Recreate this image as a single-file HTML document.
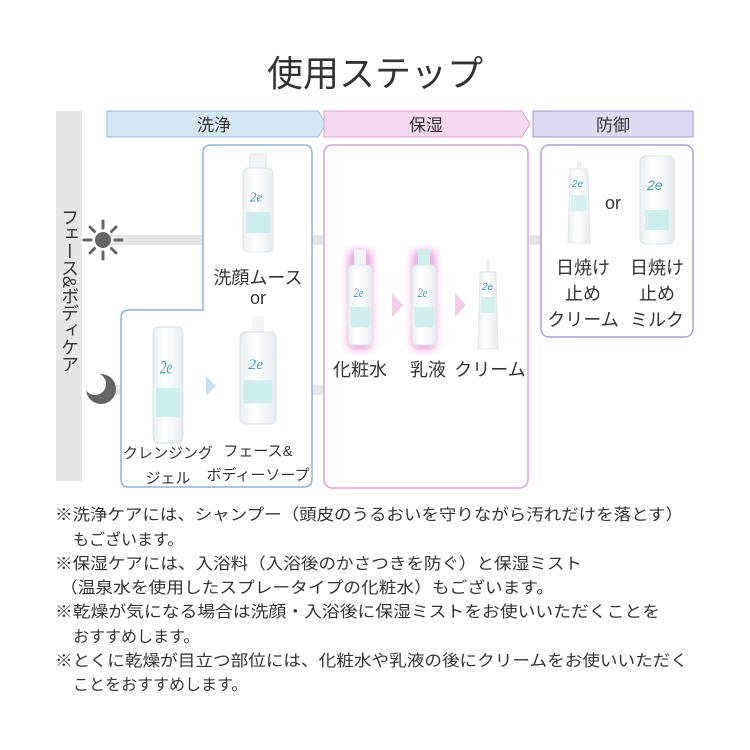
<!DOCTYPE html>
<html><head><meta charset="utf-8"><style>
html,body{margin:0;padding:0;background:#fff}
svg{display:block}
text{font-family:"Liberation Sans","Noto Sans CJK JP",sans-serif;fill:#333}
.vt{position:absolute;left:58px;top:208px;writing-mode:vertical-rl;font-family:"Liberation Sans","Noto Sans CJK JP",sans-serif;font-size:18px;color:#333;line-height:22px;letter-spacing:-1px}
</style></head><body>
<div style="position:relative;width:750px;height:750px">
<svg width="750" height="750" viewBox="0 0 750 750" xmlns="http://www.w3.org/2000/svg">
<defs>
<linearGradient id="bt" x1="0" x2="1"><stop offset="0" stop-color="#e9eef0"/><stop offset="0.4" stop-color="#fff"/><stop offset="1" stop-color="#e6ebee"/></linearGradient>
<filter id="glow" x="-50%" y="-50%" width="200%" height="200%"><feGaussianBlur stdDeviation="4"/></filter>
<g id="bottle">
<rect x="-15" y="-40" width="30" height="80" rx="5" fill="url(#bt)" stroke="#dde3e6"/>
<text x="-8" y="-8" font-size="13" font-style="italic" style="fill:#3a9fb8;font-family:'Liberation Serif',serif">2e</text>
<rect x="-12" y="2" width="24" height="20" fill="#cdeeed"/>
</g>
</defs>
<text x="375" y="86" text-anchor="middle" font-size="36">使用ステップ</text>

<rect x="56" y="111" width="26" height="370" fill="#e6e6e6"/>
<rect x="110" y="235" width="435" height="10" fill="#e6e6e6"/>
<rect x="110" y="385" width="215" height="10" fill="#e6e6e6"/>

<g transform="translate(103,240)" fill="#666">
<circle r="8"/>
<g stroke="#666" stroke-width="3" stroke-linecap="round">
<line x1="12" y1="0" x2="19" y2="0"/><line x1="-12" y1="0" x2="-19" y2="0"/>
<line x1="0" y1="12" x2="0" y2="19"/><line x1="0" y1="-12" x2="0" y2="-19"/>
<line x1="8.5" y1="8.5" x2="13" y2="13"/><line x1="-8.5" y1="8.5" x2="-13" y2="13"/>
<line x1="8.5" y1="-8.5" x2="13" y2="-13"/><line x1="-8.5" y1="-8.5" x2="-13" y2="-13"/>
</g></g>
<circle cx="101" cy="389" r="15" fill="#666"/>
<circle cx="95" cy="384" r="11" fill="#fff"/>

<path d="M107,111 H318 L326,124 L318,137 H107 Z" fill="#d5e6f5" stroke="#93bde2"/>
<text x="214" y="131" text-anchor="middle" font-size="17">洗浄</text>
<path d="M324,111 H522 L530,124 L522,137 H324 Z" fill="#f4d8ef" stroke="#dba6d2"/>
<text x="426" y="131" text-anchor="middle" font-size="17">保湿</text>
<rect x="533" y="111" width="160" height="26" fill="#dcd9f1" stroke="#a69dd6"/>
<text x="613" y="131" text-anchor="middle" font-size="17">防御</text>

<path d="M211,145 H304 Q312,145 312,153 V479 Q312,487 304,487 H129 Q121,487 121,479 V318 Q121,310 129,310 H203 V153 Q203,145 211,145 Z" fill="#fff" stroke="#8ab4dc" stroke-width="1.5"/>
<rect x="324" y="145" width="204" height="343" rx="8" fill="#fff" stroke="#d8a6d0" stroke-width="1.5"/>
<rect x="541" y="145" width="152" height="192" rx="8" fill="#fff" stroke="#a9a0d6" stroke-width="1.5"/>

<g transform="translate(258,210)"><rect x="-8" y="-56" width="16" height="18" fill="#f2f4f5" stroke="#dde3e6"/><use href="#bottle" transform="scale(1,1.05)"/></g>
<text x="258" y="284" text-anchor="middle" font-size="18">洗顔ムース</text>
<text x="258" y="304" text-anchor="middle" font-size="18">or</text>
<g transform="translate(168,385)"><use href="#bottle" transform="scale(1,1.45)"/></g>
<path d="M206,376 L216,386 L206,396 Z" fill="#c9def0"/>
<g transform="translate(258,378)"><rect x="-6" y="-62" width="12" height="16" fill="#f2f4f5"/><use href="#bottle" transform="scale(1.2,1.15)"/></g>
<text x="168" y="458" text-anchor="middle" font-size="15">クレンジング</text>
<text x="168" y="483" text-anchor="middle" font-size="15">ジェル</text>
<text x="258" y="456" text-anchor="middle" font-size="15">フェース&amp;</text>
<text x="258" y="480" text-anchor="middle" font-size="15">ボディーソープ</text>

<rect x="348" y="250" width="24" height="100" rx="6" fill="#e9a6dc" filter="url(#glow)"/>
<g transform="translate(360,305)"><rect x="-6" y="-55" width="12" height="18" fill="#f2f4f5"/><use href="#bottle" transform="scale(0.8,1)"/></g>
<path d="M392,293 L403,305 L392,317 Z" fill="#f1cfe9"/>
<rect x="412" y="250" width="24" height="100" rx="6" fill="#e9a6dc" filter="url(#glow)"/>
<g transform="translate(424,305)"><rect x="-6" y="-55" width="12" height="18" fill="#cdeeed"/><use href="#bottle" transform="scale(0.8,1)"/></g>
<path d="M455,293 L466,305 L455,317 Z" fill="#f1cfe9"/>
<g transform="translate(488,312)"><rect x="-2" y="-52" width="4" height="12" fill="#eee"/><path d="M-8,-40 H8 L10,37 H-10 Z" fill="url(#bt)" stroke="#e2e6e8"/><text x="-6" y="-22" font-size="10" font-style="italic" style="fill:#3a9fb8">2e</text><rect x="-7" y="-15" width="14" height="16" fill="#d6f0ef"/></g>
<text x="360" y="376" text-anchor="middle" font-size="18">化粧水</text>
<text x="428" y="376" text-anchor="middle" font-size="18">乳液</text>
<text x="490" y="376" text-anchor="middle" font-size="18">クリーム</text>

<g transform="translate(579,203)"><rect x="-2" y="-42" width="4" height="8" fill="#eee"/><path d="M-9,-34 H9 L11,40 H-11 Z" fill="url(#bt)" stroke="#e2e6e8"/><text x="-7" y="-16" font-size="10" font-style="italic" style="fill:#3a9fb8">2e</text><rect x="-8" y="-8" width="16" height="16" fill="#d6f0ef"/></g>
<text x="613" y="209" text-anchor="middle" font-size="18">or</text>
<g transform="translate(657,200)"><rect x="-17" y="-44" width="34" height="88" rx="5" fill="url(#bt)" stroke="#dde3e6"/><text x="-10" y="-10" font-size="14" font-style="italic" style="fill:#3a9fb8">2e</text><rect x="-12" y="10" width="24" height="20" fill="#cdeeed"/></g>
<g font-size="18" text-anchor="middle">
<text x="583" y="274">日焼け</text><text x="583" y="300">止め</text><text x="583" y="326">クリーム</text>
<text x="657" y="274">日焼け</text><text x="657" y="300">止め</text><text x="657" y="326">ミルク</text>
</g>

<g font-size="16">
<text x="55" y="520" textLength="628" lengthAdjust="spacingAndGlyphs">※洗浄ケアには、シャンプー（頭皮のうるおいを守りながら汚れだけを落とす）</text>
<text x="73" y="545">もございます。</text>
<text x="55" y="569" textLength="527" lengthAdjust="spacingAndGlyphs">※保湿ケアには、入浴料（入浴後のかさつきを防ぐ）と保湿ミスト</text>
<text x="60" y="593" textLength="494" lengthAdjust="spacingAndGlyphs">（温泉水を使用したスプレータイプの化粧水）もございます。</text>
<text x="55" y="617" textLength="605" lengthAdjust="spacingAndGlyphs">※乾燥が気になる場合は洗顔・入浴後に保湿ミストをお使いいただくことを</text>
<text x="73" y="642">おすすめします。</text>
<text x="55" y="666" textLength="633" lengthAdjust="spacingAndGlyphs">※とくに乾燥が目立つ部位には、化粧水や乳液の後にクリームをお使いいただく</text>
<text x="73" y="690">ことをおすすめします。</text>
</g>
</svg>
<div class="vt">フェース&amp;ボディケア</div>
</div>
</body></html>
